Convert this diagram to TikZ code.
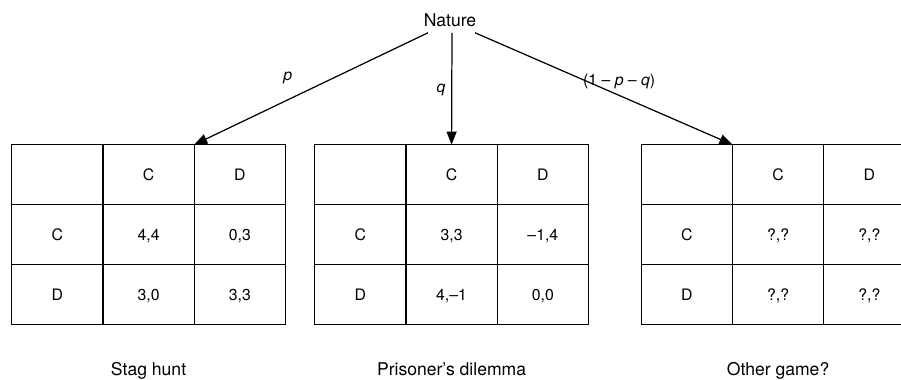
\documentclass[tikz,border=0pt]{standalone}
\usepackage{fontspec}
\setmainfont{TeX Gyre Heros}
\usetikzlibrary{matrix,positioning,arrows.meta}
\tikzset{
  payoff/.style={matrix of nodes, nodes in empty cells, anchor=north west,
    inner sep=0pt, outer sep=0pt, column sep=-0.7pt, row sep=-0.7pt,
    nodes={draw, line width=0.7pt, minimum width=1.826cm, minimum height=1.2cm,
      font=\small, inner sep=0pt, anchor=center, text height=1.5ex, text depth=0.3ex}},
  branch/.style={line width=0.7pt, -{Triangle[length=2.6mm,width=2mm]}},
  prob/.style={font=\small}
}
\begin{document}
\begin{tikzpicture}
  \useasboundingbox (0,0) rectangle (18.02,-7.58);
  \clip (0,0) rectangle (18.02,-7.58);
  \node (nature) at (9,-0.4) {Nature};
  % the three games
  \matrix (sh) [payoff] at (0.22,-2.88) {
      & C   & D   \\
    C & 4,4 & 0,3 \\
    D & 3,0 & 3,3 \\
  };
  \matrix (pd) [payoff] at (6.28,-2.88) {
      & C    & D    \\
    C & 3,3  & –1,4 \\
    D & 4,–1 & 0,0  \\
  };
  \matrix (og) [payoff] at (12.81,-2.88) {
      & C   & D   \\
    C & ?,? & ?,? \\
    D & ?,? & ?,? \\
  };
  \node[below=0.62cm of sh] (shname) {Stag hunt};
  \node[below=0.62cm of pd] (pdname) {Prisoner's dilemma};
  \node[below=0.62cm of og] (ogname) {Other game?};
  % moves of nature
  \draw[branch] ([xshift=-0.44cm]nature.south) -- (sh-1-3.north west)
    node[prob,pos=0.6,above=0.2cm] (p) {\textit{p}};
  \draw[branch] ([xshift=0.04cm]nature.south) -- (pd-1-2.north)
    node[prob,pos=0.51,left] (q) {\textit{q}};
  \draw[branch] ([xshift=0.5cm]nature.south) -- (og-1-2.north west)
    node[prob,pos=0.56,above=0cm] (r) {(1 – \textit{p} – \textit{q})};
\end{tikzpicture}
\end{document}
